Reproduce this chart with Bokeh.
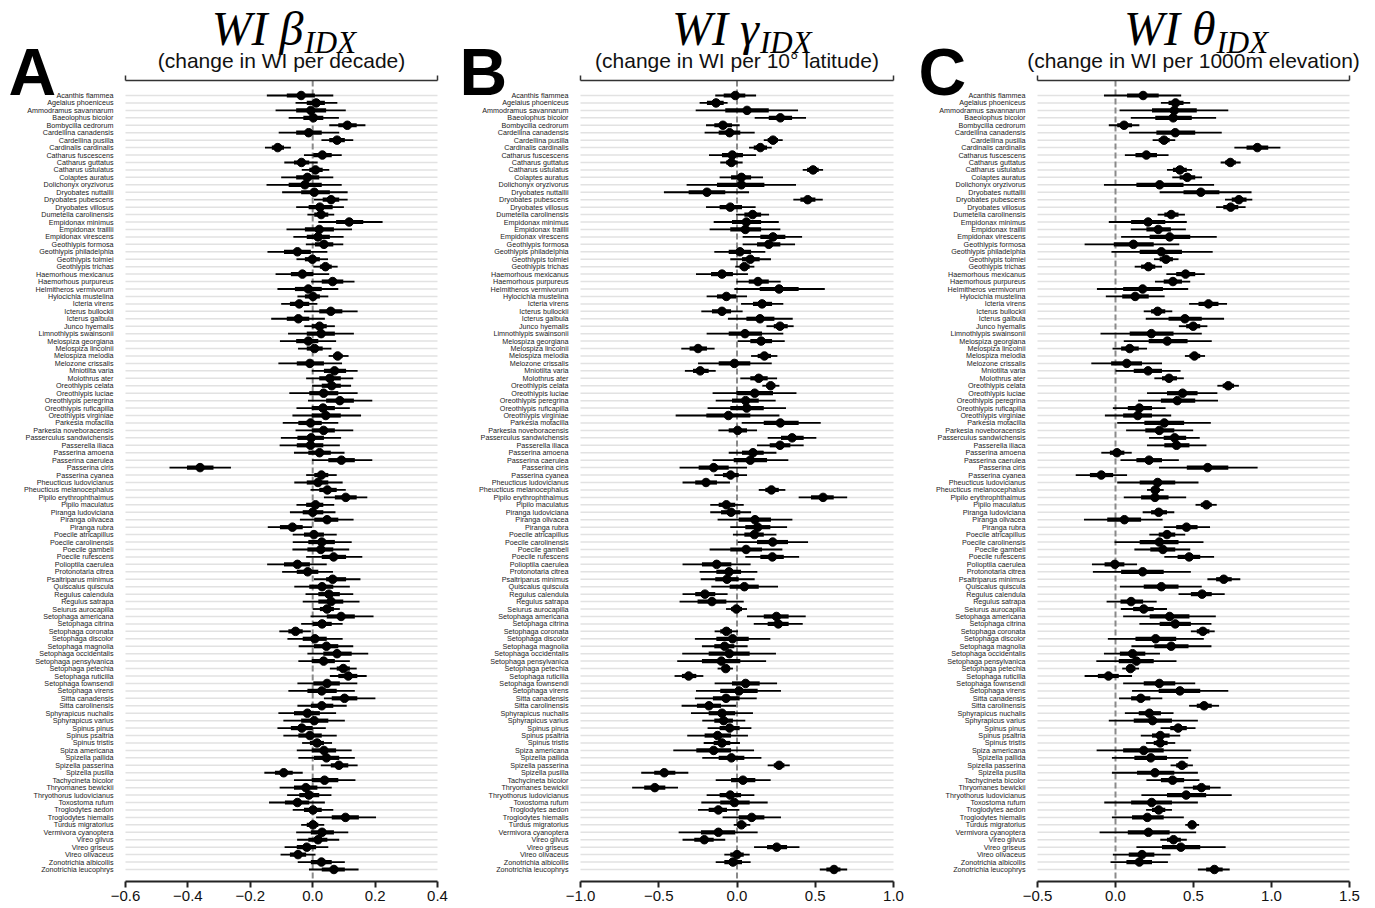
from bokeh.plotting import figure
from bokeh.layouts import row
from bokeh.models import FixedTicker, CustomJSTickFormatter, ColumnDataSource
from bokeh.core.properties import value
from bokeh.embed import file_html
from bokeh.resources import INLINE

species = [
    "Acanthis flammea", "Agelaius phoeniceus", "Ammodramus savannarum", "Baeolophus bicolor",
    "Bombycilla cedrorum", "Cardellina canadensis", "Cardellina pusilla", "Cardinalis cardinalis",
    "Catharus fuscescens", "Catharus guttatus", "Catharus ustulatus", "Colaptes auratus",
    "Dolichonyx oryzivorus", "Dryobates nuttallii", "Dryobates pubescens", "Dryobates villosus",
    "Dumetella carolinensis", "Empidonax minimus", "Empidonax traillii", "Empidonax virescens",
    "Geothlypis formosa", "Geothlypis philadelphia", "Geothlypis tolmiei", "Geothlypis trichas",
    "Haemorhous mexicanus", "Haemorhous purpureus", "Helmitheros vermivorum", "Hylocichla mustelina",
    "Icteria virens", "Icterus bullockii", "Icterus galbula", "Junco hyemalis",
    "Limnothlypis swainsonii", "Melospiza georgiana", "Melospiza lincolnii", "Melospiza melodia",
    "Melozone crissalis", "Mniotilta varia", "Molothrus ater", "Oreothlypis celata",
    "Oreothlypis luciae", "Oreothlypis peregrina", "Oreothlypis ruficapilla", "Oreothlypis virginiae",
    "Parkesia motacilla", "Parkesia noveboracensis", "Passerculus sandwichensis", "Passerella iliaca",
    "Passerina amoena", "Passerina caerulea", "Passerina ciris", "Passerina cyanea",
    "Pheucticus ludovicianus", "Pheucticus melanocephalus", "Pipilo erythrophthalmus", "Pipilo maculatus",
    "Piranga ludoviciana", "Piranga olivacea", "Piranga rubra", "Poecile atricapillus",
    "Poecile carolinensis", "Poecile gambeli", "Poecile rufescens", "Polioptila caerulea",
    "Protonotaria citrea", "Psaltriparus minimus", "Quiscalus quiscula", "Regulus calendula",
    "Regulus satrapa", "Seiurus aurocapilla", "Setophaga americana", "Setophaga citrina",
    "Setophaga coronata", "Setophaga discolor", "Setophaga magnolia", "Setophaga occidentalis",
    "Setophaga pensylvanica", "Setophaga petechia", "Setophaga ruticilla", "Setophaga townsendi",
    "Setophaga virens", "Sitta canadensis", "Sitta carolinensis", "Sphyrapicus nuchalis",
    "Sphyrapicus varius", "Spinus pinus", "Spinus psaltria", "Spinus tristis",
    "Spiza americana", "Spizella pallida", "Spizella passerina", "Spizella pusilla",
    "Tachycineta bicolor", "Thryomanes bewickii", "Thryothorus ludovicianus", "Toxostoma rufum",
    "Troglodytes aedon", "Troglodytes hiemalis", "Turdus migratorius", "Vermivora cyanoptera",
    "Vireo gilvus", "Vireo griseus", "Vireo olivaceus", "Zonotrichia albicollis",
    "Zonotrichia leucophrys",
]

# ---- beta: change in WI per decade ----
beta_est = [-0.037, 0.011, -0.006, 0.002, 0.111, -0.013, 0.078, -0.112, 0.031, -0.036,
            0.009, -0.017, -0.025, 0.005, 0.059, 0.023, 0.027, 0.117, 0.021, 0.017,
            0.036, -0.049, -0.001, 0.041, -0.033, 0.064, -0.014, 0.001, -0.043, 0.058,
            -0.046, 0.022, 0.027, -0.014, 0.006, 0.080, -0.009, 0.070, 0.055, 0.061,
            0.035, 0.087, 0.033, 0.042, -0.007, 0.035, -0.005, -0.007, 0.022, 0.092,
            -0.361, 0.028, 0.017, 0.047, 0.106, 0.009, 0.000, 0.046, -0.065, 0.004,
            0.029, 0.026, 0.067, -0.049, -0.016, 0.064, 0.030, 0.052, 0.059, 0.046,
            0.091, 0.030, -0.055, 0.007, 0.044, 0.078, 0.035, 0.098, 0.114, 0.046,
            0.029, 0.102, 0.029, -0.017, 0.005, -0.035, -0.009, 0.014, 0.036, 0.044,
            0.084, -0.093, 0.038, -0.022, -0.012, -0.049, 0.001, 0.105, 0.001, 0.030,
            0.017, -0.019, -0.047, 0.028, 0.068]
beta_lo95 = [-0.147, -0.055, -0.119, -0.077, 0.053, -0.109, 0.028, -0.153, -0.028, -0.091,
             -0.035, -0.101, -0.148, -0.098, 0.004, -0.053, -0.017, 0.018, -0.084, -0.062,
             -0.022, -0.145, -0.052, 0.002, -0.119, -0.005, -0.113, -0.049, -0.101, -0.028,
             -0.133, -0.027, -0.079, -0.105, -0.047, 0.051, -0.110, -0.003, -0.021, -0.002,
             -0.075, -0.015, -0.052, -0.065, -0.096, -0.055, -0.102, -0.106, -0.060, -0.002,
             -0.459, -0.021, -0.059, -0.007, 0.036, -0.052, -0.073, -0.041, -0.144, -0.064,
             -0.064, -0.065, -0.021, -0.146, -0.098, 0.004, -0.059, -0.023, -0.032, 0.000,
             -0.007, -0.037, -0.107, -0.081, -0.045, -0.017, -0.046, 0.055, 0.055, -0.049,
             -0.078, 0.036, -0.049, -0.110, -0.094, -0.113, -0.094, -0.034, -0.051, -0.046,
             0.026, -0.155, -0.060, -0.106, -0.082, -0.140, -0.064, 0.011, -0.037, -0.053,
             -0.050, -0.090, -0.103, -0.048, -0.012]
beta_lo50 = [-0.083, -0.019, -0.053, -0.030, 0.082, -0.053, 0.053, -0.131, 0.002, -0.060,
             -0.011, -0.053, -0.077, -0.037, 0.032, -0.013, 0.005, 0.075, -0.025, -0.019,
             0.007, -0.092, -0.025, 0.023, -0.070, 0.029, -0.057, -0.025, -0.073, 0.021,
             -0.083, -0.003, -0.019, -0.053, -0.019, 0.066, -0.051, 0.036, 0.021, 0.029,
             -0.011, 0.043, -0.003, -0.003, -0.046, -0.003, -0.049, -0.051, -0.014, 0.050,
             -0.403, 0.005, -0.019, 0.021, 0.071, -0.021, -0.032, 0.005, -0.105, -0.028,
             -0.014, -0.017, 0.029, -0.092, -0.051, 0.043, -0.011, 0.018, 0.018, 0.023,
             0.045, 0.000, -0.078, -0.032, 0.004, 0.034, -0.003, 0.077, 0.082, 0.002,
             -0.017, 0.061, -0.006, -0.060, -0.037, -0.070, -0.046, -0.009, -0.003, 0.004,
             0.058, -0.121, -0.003, -0.060, -0.043, -0.089, -0.028, 0.061, -0.019, -0.006,
             -0.014, -0.051, -0.073, -0.006, 0.029]
beta_hi50 = [0.007, 0.039, 0.043, 0.034, 0.141, 0.029, 0.103, -0.092, 0.061, -0.011,
             0.032, 0.021, 0.029, 0.055, 0.085, 0.064, 0.050, 0.162, 0.068, 0.055,
             0.066, -0.006, 0.023, 0.061, 0.002, 0.098, 0.029, 0.023, -0.011, 0.095,
             -0.011, 0.045, 0.071, 0.018, 0.032, 0.096, 0.036, 0.107, 0.090, 0.090,
             0.082, 0.132, 0.071, 0.090, 0.029, 0.071, 0.036, 0.034, 0.058, 0.135,
             -0.318, 0.050, 0.050, 0.077, 0.141, 0.034, 0.034, 0.082, -0.032, 0.036,
             0.071, 0.066, 0.107, -0.009, 0.018, 0.107, 0.066, 0.087, 0.098, 0.068,
             0.135, 0.061, -0.032, 0.045, 0.082, 0.125, 0.071, 0.119, 0.143, 0.087,
             0.077, 0.143, 0.066, 0.023, 0.050, 0.000, 0.029, 0.036, 0.075, 0.085,
             0.114, -0.064, 0.082, 0.015, 0.021, -0.011, 0.029, 0.148, 0.018, 0.068,
             0.047, 0.011, -0.021, 0.061, 0.103]
beta_hi95 = [0.066, 0.079, 0.106, 0.084, 0.169, 0.085, 0.130, -0.070, 0.093, 0.016,
             0.053, 0.066, 0.093, 0.112, 0.112, 0.100, 0.069, 0.224, 0.126, 0.099,
             0.098, 0.047, 0.049, 0.080, 0.053, 0.134, 0.082, 0.050, 0.015, 0.144,
             0.039, 0.071, 0.132, 0.075, 0.060, 0.115, 0.094, 0.144, 0.130, 0.123,
             0.144, 0.191, 0.119, 0.155, 0.082, 0.130, 0.091, 0.087, 0.102, 0.191,
             -0.262, 0.077, 0.096, 0.106, 0.175, 0.069, 0.073, 0.131, -0.002, 0.077,
             0.125, 0.117, 0.159, 0.045, 0.065, 0.153, 0.119, 0.130, 0.150, 0.087,
             0.195, 0.096, -0.006, 0.096, 0.130, 0.178, 0.119, 0.141, 0.173, 0.143,
             0.135, 0.201, 0.109, 0.075, 0.103, 0.042, 0.077, 0.062, 0.125, 0.135,
             0.144, -0.032, 0.137, 0.061, 0.060, 0.039, 0.066, 0.203, 0.037, 0.114,
             0.085, 0.050, 0.009, 0.103, 0.147]

# ---- gamma: change in WI per 10 degrees latitude ----
gamma_est = [-0.011, -0.134, 0.064, 0.277, -0.090, -0.047, 0.230, 0.149, -0.030, -0.036,
             0.486, 0.028, 0.028, -0.192, 0.452, -0.043, 0.100, 0.060, 0.053, 0.230,
             0.203, 0.019, 0.085, 0.047, -0.096, 0.134, 0.269, -0.068, 0.160, -0.096,
             0.147, 0.275, 0.051, 0.154, -0.249, 0.175, -0.017, -0.235, 0.139, 0.215,
             0.113, 0.055, 0.062, -0.055, 0.277, 0.004, 0.352, 0.275, 0.102, 0.085,
             -0.149, -0.041, -0.198, 0.220, 0.550, -0.068, -0.038, 0.115, 0.132, 0.111,
             0.228, 0.058, 0.226, -0.130, -0.051, -0.064, 0.047, -0.205, -0.160, -0.004,
             0.252, 0.264, -0.068, -0.028, -0.079, -0.049, -0.100, -0.072, -0.309, 0.055,
             0.013, -0.070, -0.179, -0.096, -0.085, -0.047, -0.124, -0.096, -0.149, -0.036,
             0.269, -0.465, 0.038, -0.525, -0.043, -0.017, -0.119, 0.094, 0.028, -0.119,
             -0.209, 0.254, 0.000, -0.026, 0.620]
gamma_lo95 = [-0.139, -0.239, -0.264, 0.113, -0.198, -0.207, 0.171, 0.077, -0.179, -0.107,
              0.420, -0.111, -0.322, -0.467, 0.360, -0.198, -0.006, -0.149, -0.175, 0.036,
              0.036, -0.145, -0.043, -0.011, -0.262, -0.004, -0.017, -0.194, 0.026, -0.228,
              -0.058, 0.188, -0.194, 0.004, -0.356, 0.090, -0.249, -0.333, 0.021, 0.162,
              -0.156, -0.136, -0.188, -0.392, 0.030, -0.119, 0.196, 0.128, -0.053, -0.156,
              -0.367, -0.145, -0.348, 0.139, 0.394, -0.171, -0.171, -0.124, -0.043, -0.026,
              0.004, -0.175, 0.053, -0.348, -0.239, -0.232, -0.164, -0.348, -0.367, -0.070,
              0.064, 0.107, -0.143, -0.269, -0.224, -0.350, -0.382, -0.124, -0.399, -0.143,
              -0.262, -0.269, -0.354, -0.294, -0.222, -0.188, -0.318, -0.213, -0.407, -0.222,
              0.196, -0.612, -0.136, -0.670, -0.194, -0.228, -0.249, -0.092, -0.021, -0.373,
              -0.348, 0.109, -0.081, -0.136, 0.529]
gamma_lo50 = [-0.085, -0.192, -0.075, 0.203, -0.145, -0.117, 0.196, 0.107, -0.096, -0.070,
              0.448, -0.038, -0.128, -0.309, 0.405, -0.111, 0.047, -0.032, -0.043, 0.149,
              0.128, -0.053, 0.032, 0.017, -0.166, 0.075, 0.145, -0.128, 0.102, -0.160,
              0.060, 0.235, -0.053, 0.085, -0.303, 0.132, -0.117, -0.281, 0.085, 0.188,
              -0.004, -0.032, -0.043, -0.196, 0.171, -0.053, 0.281, 0.209, 0.032, -0.021,
              -0.245, -0.090, -0.267, 0.181, 0.473, -0.117, -0.102, 0.011, 0.053, 0.047,
              0.128, -0.043, 0.149, -0.224, -0.132, -0.139, -0.047, -0.267, -0.252, -0.038,
              0.171, 0.196, -0.107, -0.132, -0.145, -0.181, -0.224, -0.096, -0.352, -0.032,
              -0.107, -0.154, -0.256, -0.181, -0.145, -0.111, -0.207, -0.149, -0.260, -0.117,
              0.235, -0.529, -0.038, -0.593, -0.111, -0.107, -0.181, 0.011, 0.000, -0.230,
              -0.273, 0.192, -0.043, -0.081, 0.571]
gamma_hi50 = [0.053, -0.085, 0.203, 0.352, -0.032, 0.021, 0.262, 0.192, 0.038, 0.004,
              0.522, 0.090, 0.175, -0.075, 0.501, 0.032, 0.154, 0.154, 0.154, 0.309,
              0.277, 0.090, 0.145, 0.081, -0.026, 0.203, 0.394, -0.004, 0.224, -0.038,
              0.239, 0.324, 0.160, 0.224, -0.192, 0.217, 0.085, -0.181, 0.196, 0.245,
              0.230, 0.139, 0.171, 0.085, 0.394, 0.064, 0.426, 0.341, 0.171, 0.192,
              -0.053, 0.011, -0.128, 0.267, 0.618, -0.011, 0.021, 0.217, 0.213, 0.171,
              0.326, 0.160, 0.299, -0.036, 0.026, 0.011, 0.139, -0.139, -0.068, 0.032,
              0.330, 0.330, -0.032, 0.075, -0.017, 0.081, 0.021, -0.047, -0.260, 0.145,
              0.132, 0.017, -0.102, -0.011, -0.026, 0.017, -0.038, -0.043, -0.038, 0.047,
              0.303, -0.394, 0.117, -0.458, 0.026, 0.081, -0.064, 0.175, 0.060, -0.011,
              -0.149, 0.320, 0.043, 0.032, 0.661]
gamma_hi95 = [0.122, -0.060, 0.390, 0.441, 0.017, 0.113, 0.292, 0.222, 0.122, 0.036,
              0.550, 0.166, 0.377, 0.077, 0.548, 0.119, 0.205, 0.267, 0.277, 0.416,
              0.371, 0.181, 0.217, 0.111, 0.070, 0.279, 0.561, 0.064, 0.296, 0.036,
              0.356, 0.362, 0.296, 0.305, -0.143, 0.258, 0.222, -0.136, 0.256, 0.271,
              0.380, 0.247, 0.313, 0.271, 0.535, 0.128, 0.507, 0.426, 0.252, 0.328,
              0.064, 0.064, -0.045, 0.309, 0.704, 0.043, 0.090, 0.354, 0.320, 0.252,
              0.454, 0.290, 0.397, 0.087, 0.130, 0.113, 0.262, -0.060, 0.043, 0.064,
              0.439, 0.420, 0.006, 0.213, 0.068, 0.249, 0.186, -0.026, -0.215, 0.256,
              0.281, 0.126, -0.006, 0.102, 0.053, 0.092, 0.070, 0.019, 0.109, 0.156,
              0.337, -0.311, 0.215, -0.377, 0.111, 0.196, 0.015, 0.281, 0.085, 0.132,
              -0.075, 0.399, 0.081, 0.087, 0.704]

# ---- theta: change in WI per 1000 m elevation ----
theta_est = [0.177, 0.385, 0.377, 0.370, 0.055, 0.383, 0.311, 0.909, 0.198, 0.736,
             0.413, 0.460, 0.283, 0.547, 0.791, 0.738, 0.357, 0.209, 0.274, 0.347,
             0.115, 0.294, 0.323, 0.211, 0.449, 0.368, 0.174, 0.126, 0.596, 0.270,
             0.445, 0.498, 0.230, 0.332, 0.091, 0.506, 0.072, 0.209, 0.343, 0.723,
             0.430, 0.396, 0.153, 0.143, 0.313, 0.281, 0.379, 0.391, 0.009, 0.215,
             0.591, -0.091, 0.270, 0.255, 0.253, 0.583, 0.277, 0.057, 0.455, 0.330,
             0.281, 0.304, 0.472, -0.004, 0.174, 0.694, 0.294, 0.555, 0.100, 0.181,
             0.347, 0.383, 0.560, 0.257, 0.357, 0.109, 0.134, 0.096, -0.045, 0.281,
             0.413, 0.162, 0.568, 0.217, 0.238, 0.402, 0.287, 0.287, 0.181, 0.226,
             0.426, 0.253, 0.366, 0.551, 0.453, 0.232, 0.277, 0.204, 0.491, 0.211,
             0.372, 0.419, 0.170, 0.153, 0.634]
theta_lo95 = [-0.074, 0.291, 0.026, 0.098, -0.043, 0.087, 0.238, 0.762, 0.060, 0.674,
              0.330, 0.364, -0.074, 0.283, 0.702, 0.645, 0.270, -0.043, 0.098, 0.036,
              -0.198, -0.026, 0.247, 0.123, 0.326, 0.253, -0.119, -0.062, 0.472, 0.181,
              0.194, 0.406, -0.096, 0.053, -0.019, 0.445, -0.155, 0.000, 0.249, 0.653,
              0.202, 0.145, -0.017, -0.068, 0.011, 0.068, 0.215, 0.202, -0.091, 0.032,
              0.279, -0.255, 0.011, 0.202, 0.053, 0.513, 0.174, -0.202, 0.309, 0.217,
              -0.006, 0.121, 0.313, -0.151, -0.145, 0.589, 0.028, 0.404, -0.057, 0.034,
              0.049, 0.153, 0.483, -0.049, 0.102, -0.074, -0.123, 0.043, -0.198, 0.049,
              0.106, 0.023, 0.472, 0.060, -0.043, 0.289, 0.162, 0.196, -0.121, -0.023,
              0.353, -0.023, 0.198, 0.436, 0.166, -0.072, 0.196, -0.023, 0.447, -0.102,
              0.287, 0.134, -0.017, -0.032, 0.528]
theta_lo50 = [0.074, 0.340, 0.234, 0.255, 0.011, 0.262, 0.277, 0.840, 0.128, 0.702,
              0.368, 0.411, 0.134, 0.436, 0.745, 0.691, 0.313, 0.100, 0.198, 0.219,
              -0.011, 0.155, 0.283, 0.164, 0.389, 0.309, 0.049, 0.043, 0.532, 0.228,
              0.340, 0.453, 0.091, 0.213, 0.036, 0.474, -0.028, 0.117, 0.298, 0.687,
              0.330, 0.291, 0.079, 0.049, 0.185, 0.191, 0.309, 0.313, -0.036, 0.134,
              0.457, -0.164, 0.155, 0.228, 0.164, 0.547, 0.228, -0.053, 0.389, 0.277,
              0.155, 0.223, 0.398, -0.070, 0.036, 0.645, 0.181, 0.483, 0.032, 0.113,
              0.219, 0.283, 0.521, 0.128, 0.249, 0.028, 0.021, 0.070, -0.113, 0.181,
              0.277, 0.100, 0.521, 0.149, 0.117, 0.351, 0.234, 0.245, 0.049, 0.121,
              0.389, 0.138, 0.291, 0.496, 0.330, 0.100, 0.234, 0.106, 0.468, 0.079,
              0.330, 0.298, 0.085, 0.070, 0.581]
theta_hi50 = [0.277, 0.436, 0.521, 0.489, 0.106, 0.511, 0.347, 0.979, 0.266, 0.772,
              0.457, 0.511, 0.436, 0.666, 0.840, 0.787, 0.404, 0.319, 0.355, 0.479,
              0.245, 0.426, 0.368, 0.255, 0.511, 0.426, 0.304, 0.213, 0.660, 0.319,
              0.553, 0.543, 0.372, 0.462, 0.149, 0.543, 0.170, 0.298, 0.394, 0.760,
              0.526, 0.511, 0.234, 0.234, 0.440, 0.377, 0.453, 0.474, 0.057, 0.298,
              0.723, -0.015, 0.383, 0.283, 0.340, 0.617, 0.330, 0.164, 0.526, 0.383,
              0.404, 0.383, 0.543, 0.057, 0.309, 0.745, 0.404, 0.617, 0.177, 0.245,
              0.474, 0.483, 0.602, 0.389, 0.468, 0.191, 0.245, 0.128, 0.021, 0.383,
              0.543, 0.223, 0.617, 0.291, 0.362, 0.457, 0.347, 0.334, 0.309, 0.330,
              0.462, 0.377, 0.440, 0.606, 0.581, 0.362, 0.319, 0.309, 0.517, 0.347,
              0.419, 0.543, 0.249, 0.234, 0.687]
theta_hi95 = [0.421, 0.479, 0.723, 0.645, 0.153, 0.681, 0.383, 1.057, 0.340, 0.802,
              0.491, 0.555, 0.632, 0.872, 0.877, 0.834, 0.445, 0.457, 0.451, 0.649,
              0.409, 0.623, 0.404, 0.298, 0.572, 0.479, 0.466, 0.315, 0.715, 0.364,
              0.696, 0.589, 0.553, 0.617, 0.202, 0.574, 0.298, 0.417, 0.438, 0.791,
              0.653, 0.657, 0.321, 0.357, 0.611, 0.498, 0.540, 0.583, 0.104, 0.406,
              0.911, 0.074, 0.532, 0.309, 0.453, 0.649, 0.377, 0.302, 0.606, 0.447,
              0.564, 0.479, 0.632, 0.138, 0.483, 0.800, 0.553, 0.700, 0.264, 0.330,
              0.643, 0.615, 0.636, 0.566, 0.615, 0.285, 0.391, 0.151, 0.106, 0.511,
              0.723, 0.300, 0.664, 0.372, 0.528, 0.513, 0.415, 0.383, 0.485, 0.466,
              0.496, 0.528, 0.538, 0.674, 0.745, 0.528, 0.362, 0.438, 0.536, 0.517,
              0.457, 0.706, 0.353, 0.336, 0.732]

beta_ticks = [-0.6, -0.4, -0.2, 0.0, 0.2, 0.4]
gamma_ticks = [-1.0, -0.5, 0.0, 0.5, 1.0]
theta_ticks = [-0.5, 0.0, 0.5, 1.0, 1.5]

# page geometry (pixels)
FIG_H = 908
BOTTOM = 27            # room for the bottom axis
ROW0_Y = 95            # first species row
ROW_PX = (869 - 95) / 104.0
TOPLINE_Y = 80
SANS = "Liberation Sans"
SERIF = "Liberation Serif"


def py(page_y):
    """vertical pixel position -> row coordinate (row k sits at -k)"""
    return (ROW0_Y - page_y) / ROW_PX


def panel(est, lo95, hi95, lo50, hi50, ticks, fig_w, left, plot_w,
          letter_x, letter, greek, subtitle):
    n = len(species)
    xlo, xhi = ticks[0], ticks[-1]
    scale = plot_w / (xhi - xlo)

    def px(local_x):
        return xlo + (local_x - left) / scale

    ys = [-i for i in range(n)]
    src = ColumnDataSource(dict(y=ys, name=species, est=est, lo95=lo95, hi95=hi95,
                                lo50=lo50, hi50=hi50))

    p = figure(width=fig_w, height=FIG_H,
               x_range=(px(0), px(fig_w)), y_range=(py(FIG_H - BOTTOM), py(0)),
               output_backend="svg", toolbar_location=None, y_axis_location=None,
               min_border=0, min_border_bottom=BOTTOM)
    p.outline_line_color = None
    p.xgrid.visible = False
    p.ygrid.visible = False

    # bottom axis restricted to the data window
    p.xaxis.bounds = (xlo, xhi)
    p.xaxis.ticker = FixedTicker(ticks=ticks)
    p.xaxis.formatter = CustomJSTickFormatter(
        code="return tick.toFixed(1).replace('-', '\\u2212');")
    p.xaxis.axis_line_width = 2
    p.xaxis.axis_line_color = "#222222"
    p.xaxis.major_tick_line_width = 2
    p.xaxis.major_tick_line_color = "#222222"
    p.xaxis.major_tick_out = 6
    p.xaxis.major_tick_in = 0
    p.xaxis.minor_tick_line_color = None
    p.xaxis.major_label_text_font = SANS
    p.xaxis.major_label_text_font_size = "15px"
    p.xaxis.major_label_text_color = "#111111"
    p.xaxis.major_label_standoff = 3

    # row guide lines
    p.segment(x0=xlo, x1=xhi, y0="y", y1="y", source=src,
              line_color="#e2e2e2", line_width=1.5)
    # zero reference
    p.segment(x0=0, x1=0, y0=py(TOPLINE_Y), y1=py(FIG_H - BOTTOM),
              line_color="#8a8a8a", line_width=2, line_dash="6 3")
    # top rule with end ticks
    p.segment(x0=xlo, x1=xhi, y0=py(TOPLINE_Y), y1=py(TOPLINE_Y),
              line_color="#333333", line_width=1.5)
    p.segment(x0=[xlo, xhi], x1=[xlo, xhi], y0=py(TOPLINE_Y), y1=py(TOPLINE_Y - 5),
              line_color="#333333", line_width=1.5)

    # species names
    p.text(x=px(left - 12), y="y", text="name", source=src,
           text_align="right", text_baseline="middle",
           text_font=value(SANS), text_font_size="7.2px", text_color="#1a1a1a")

    # intervals and estimates
    p.segment(x0="lo95", y0="y", x1="hi95", y1="y", source=src,
              line_color="black", line_width=1.8)
    p.segment(x0="lo50", y0="y", x1="hi50", y1="y", source=src,
              line_color="black", line_width=4.2)
    p.scatter(x="est", y="y", source=src, marker="circle", size=8.5,
              fill_color="black", line_color="black")

    # panel letter, title and subtitle
    center = left + plot_w / 2
    anchor = center + 22
    p.text(x=[px(letter_x)], y=[py(71)], text=[letter],
           text_font=value(SANS), text_font_style="bold", text_font_size="66px",
           text_color="black", text_align="left", text_baseline="alphabetic")
    p.text(x=[px(anchor)], y=[py(28)], text=["WI " + greek],
           text_font=value(SERIF), text_font_style="italic", text_font_size="48px",
           text_color="black", text_align="right", text_baseline="alphabetic")
    p.text(x=[px(anchor + 1)], y=[py(42)], text=["IDX"],
           text_font=value(SERIF), text_font_style="italic", text_font_size="31px",
           text_color="black", text_align="left", text_baseline="alphabetic")
    p.text(x=[px(center)], y=[py(60)], text=[subtitle],
           text_font=value(SANS), text_font_size="21px", text_color="#111111",
           text_align="center", text_baseline="alphabetic")
    return p


pa = panel(beta_est, beta_lo95, beta_hi95, beta_lo50, beta_hi50, beta_ticks,
           458, 125, 312, 8, "A", "\u03b2", "(change in WI per decade)")
pb = panel(gamma_est, gamma_lo95, gamma_hi95, gamma_lo50, gamma_hi50, gamma_ticks,
           458, 122, 313, 1, "B", "\u03b3", "(change in WI per 10\u00b0 latitude)")
pc = panel(theta_est, theta_lo95, theta_hi95, theta_lo50, theta_hi50, theta_ticks,
           459, 121, 312, 2, "C", "\u03b8", "(change in WI per 1000m elevation)")

layout = row(pa, pb, pc, spacing=0)
open("out.html", "w").write(file_html(layout, INLINE))
